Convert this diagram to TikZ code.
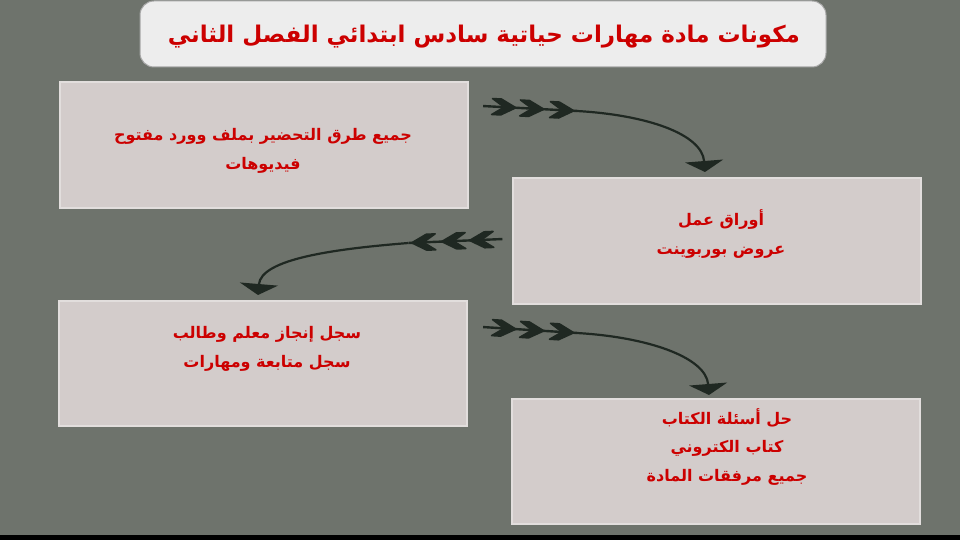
\documentclass[tikz,border=0pt]{standalone}
\usepackage{fontspec}
\newfontfamily\arabicfont[Script=Arabic]{DejaVu Sans}
\TeXXeTstate=1
\usetikzlibrary{arrows.meta}

\definecolor{slidebg}{HTML}{6E736C}
\definecolor{boxfill}{HTML}{D3CCCB}
\definecolor{boxedge}{HTML}{E2DEDD}
\definecolor{titlefill}{HTML}{EDEDED}
\definecolor{txtred}{HTML}{CC0000}
\definecolor{inkdark}{HTML}{1F2822}

\tikzset{
	panel/.style={rectangle, fill=boxfill, draw=boxedge, line width=2pt, inner sep=0pt, minimum width=408pt, minimum height=125pt},
	boxtext/.style={text=txtred, align=center, inner sep=0pt, font=\arabicfont\bfseries\fontsize{16}{28.5}\selectfont},
	conn/.style={draw=inkdark, line width=2.2pt, -{Triangle[width=38pt,length=11pt]}},
	fletch/.pic={
		\draw[line width=2.4pt, inkdark] (-47,0) -- (47,0);
		\foreach \t in {-14,14,44} {
			\filldraw[inkdark, line width=1.5pt, line join=round] (\t,0) -- ++(-15,-8) -- ++(-9,0) -- ++(12,8) -- ++(-12,8) -- ++(9,0) -- cycle;
		}
	}
}

\begin{document}
\begin{tikzpicture}[x=1pt, y=-1pt]
	\fill[slidebg] (0,0) rectangle (960,540);
	\fill[black] (0,535) rectangle (960,540);

	% title
	\node [rectangle, rounded corners=14pt, fill=titlefill, draw=gray!70, line width=1pt, minimum width=686pt, minimum height=66pt] (title) at (483,34) {};
	\node [text=txtred, inner sep=0pt, font=\arabicfont\bfseries\fontsize{23}{28}\selectfont] (titletext) at (484,37) {\beginR مكونات مادة مهارات حياتية سادس ابتدائي الفصل الثاني\endR};

	% panels
	\node [panel] (b1) at (264,145) {};
	\node [panel] (b2) at (717,241) {};
	\node [panel] (b3) at (263,363) {};
	\node [panel] (b4) at (716,461) {};

	\node [boxtext] (t1) at (263,151) {\beginR جميع طرق التحضير بملف وورد مفتوح\endR\\\beginR فيديوهات\endR};
	\node [boxtext] (t2) at (721,234) {\beginR أوراق عمل\endR\\\beginR عروض بوربوينت\endR};
	\node [boxtext] (t3) at (267,349) {\beginR سجل إنجاز معلم وطالب\endR\\\beginR سجل متابعة ومهارات\endR};
	\node [boxtext] (t4) at (727,447) {\beginR حل أسئلة الكتاب\endR\\\beginR كتاب الكتروني\endR\\\beginR جميع مرفقات المادة\endR};

	% feathered arrows
	\pic [rotate=-3] (fl1) at (530,108.5) {fletch};
	\pic [rotate=182.4] (fl2) at (455.5,241) {fletch};
	\pic [rotate=-3.6] (fl3) at (530,330) {fletch};

	\coordinate (f1) at (577,111);
	\coordinate (h1) at (705,172);
	\coordinate (f2) at (408.5,243);
	\coordinate (h2) at (258,295);
	\coordinate (f3) at (577,333);
	\coordinate (h3) at (709,395);

	\draw [conn] (f1) .. controls +(70,4) and +(-3,-38) .. (h1);
	\draw [conn] (f2) .. controls +(-75,6) and +(3,-36) .. (h2);
	\draw [conn] (f3) .. controls +(70,4) and +(-3,-38) .. (h3);
\end{tikzpicture}
\end{document}
